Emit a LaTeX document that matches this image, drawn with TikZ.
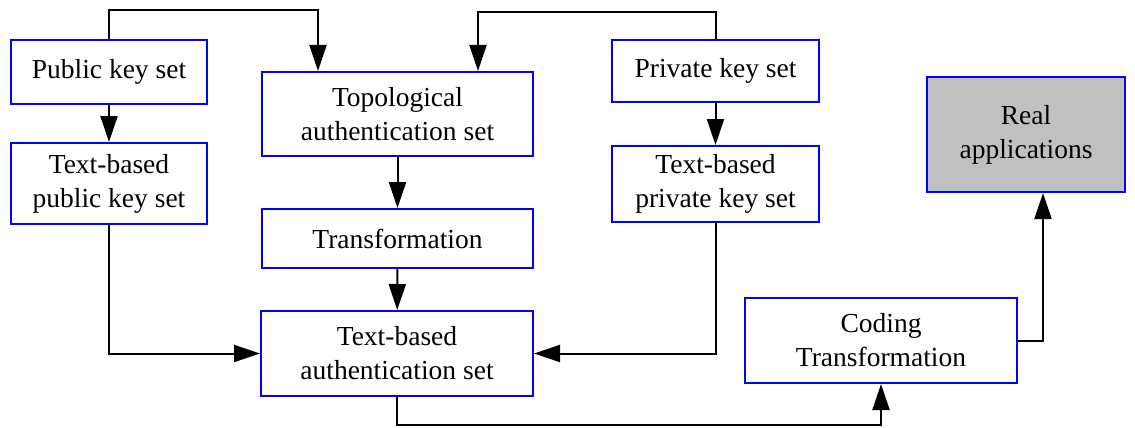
\documentclass[tikz,border=0pt]{standalone}
\usepackage{fontspec}
\setmainfont{Liberation Serif}
\usetikzlibrary{arrows.meta}
\definecolor{boxgray}{RGB}{192,192,192}

\begin{document}
\begin{tikzpicture}[x=1pt,y=-1pt,
		setbox/.style={draw=blue,line width=2pt,align=center,inner sep=0pt,
			font=\fontsize{27.5}{34}\selectfont},
		flow/.style={draw=black,line width=2pt,-{Triangle[length=26pt,width=17pt]}}]
		\useasboundingbox (0,0) rectangle (1135,428);
		% boxes
		\node [setbox,minimum width=196,minimum height=64] (pub) at (109,72) {Public key set};
		\node [setbox,minimum width=196,minimum height=81] (tpub) at (109,183.5) {Text-based\\public key set};
		\node [setbox,minimum width=271,minimum height=84] (topo) at (397.5,114) {Topological\\authentication set};
		\node [setbox,minimum width=271,minimum height=59] (trans) at (397.5,238.5) {Transformation};
		\node [setbox,minimum width=272,minimum height=85] (tauth) at (397,353.5) {Text-based\\authentication set};
		\node [setbox,minimum width=207,minimum height=62] (priv) at (715.5,71) {Private key set};
		\node [setbox,minimum width=207,minimum height=76] (tpriv) at (715.5,184) {Text-based\\private key set};
		\node [setbox,minimum width=272,minimum height=85] (coding) at (881,340.5) {Coding\\Transformation};
		\node [setbox,fill=boxgray,minimum width=198,minimum height=115] (real) at (1026,134.5) {Real\\applications};
		% corners of the bent lines
		\coordinate (pubtop) at (318,10);
		\coordinate (privtop) at (478,12);
		\coordinate (authbot) at (397,425);
		% connectors
		\draw [flow] (pub.north) |- (pubtop) -- (pubtop |- topo.north);
		\draw [flow] (priv.north) |- (privtop) -- (privtop |- topo.north);
		\draw [flow] (pub) -- (tpub);
		\draw [flow] (priv) -- (tpriv);
		\draw [flow] (topo) -- (trans);
		\draw [flow] (trans) -- (tauth);
		\draw [flow] (tpub.south) |- (tauth.west);
		\draw [flow] (tpriv.south) |- (tauth.east);
		\draw [flow] (tauth.south) -- (authbot) -| (coding.south);
		\draw [flow] (coding.east) -| ([xshift=17pt]real.south);
	\end{tikzpicture}
\end{document}
